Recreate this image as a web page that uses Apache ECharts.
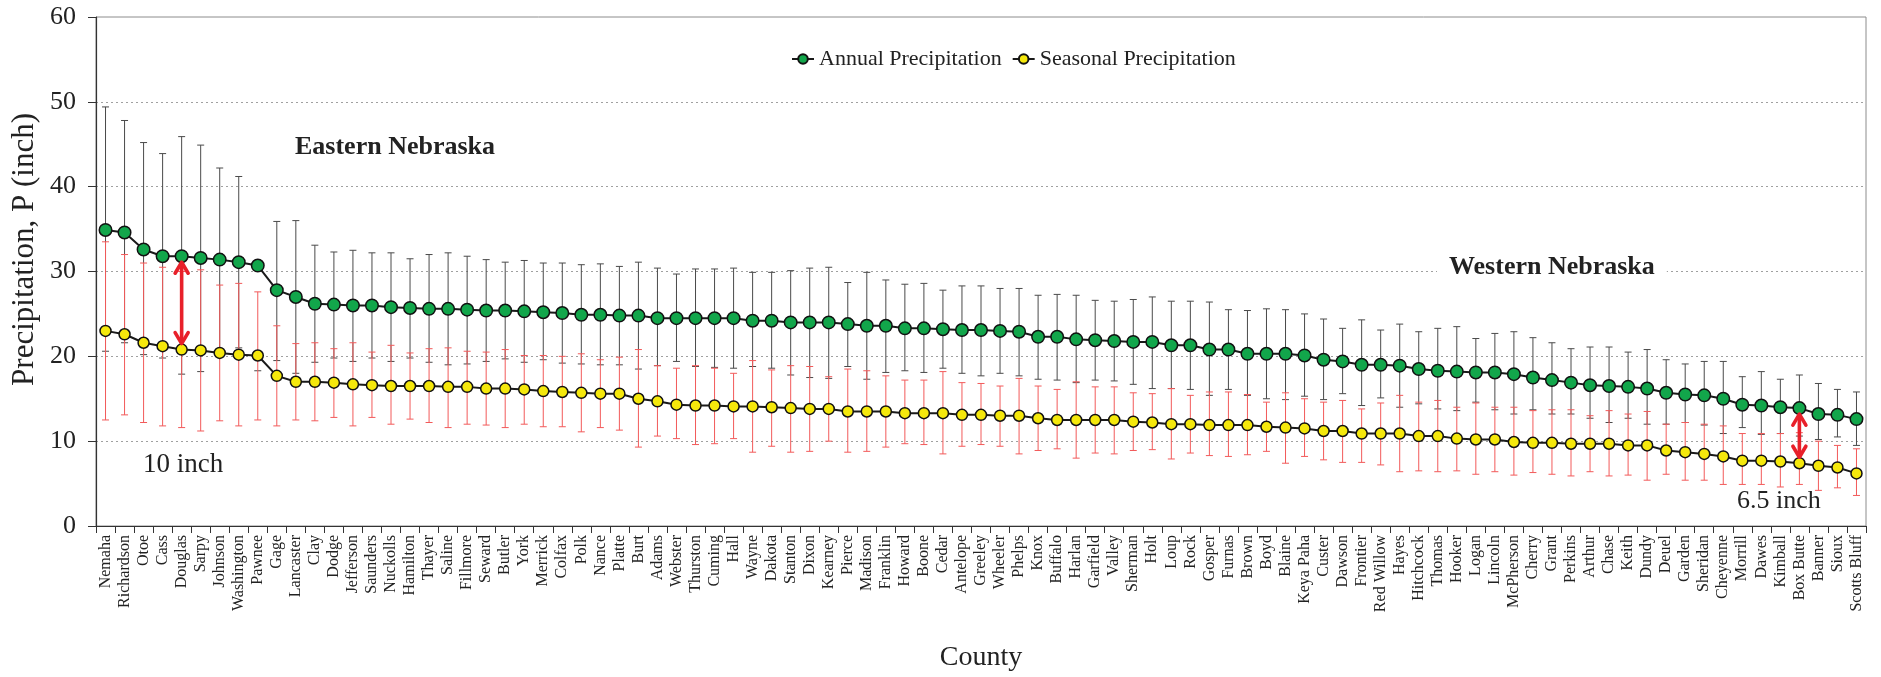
<!DOCTYPE html>
<html>
<head>
<meta charset="utf-8">
<title>Nebraska county precipitation</title>
<script src="https://cdn.jsdelivr.net/npm/echarts@6/dist/echarts.min.js"></script>
<style>
  html, body { margin: 0; padding: 0; background: #fff; }
  #chart { width: 1881px; height: 677px; }
</style>
</head>
<body>
<div id="chart"></div>
<script>
// Counties ordered from wettest (east) to driest (west)
const counties = [
  'Nemaha','Richardson','Otoe','Cass','Douglas','Sarpy','Johnson','Washington','Pawnee','Gage',
  'Lancaster','Clay','Dodge','Jefferson','Saunders','Nuckolls','Hamilton','Thayer','Saline','Fillmore',
  'Seward','Butler','York','Merrick','Colfax','Polk','Nance','Platte','Burt','Adams',
  'Webster','Thurston','Cuming','Hall','Wayne','Dakota','Stanton','Dixon','Kearney','Pierce',
  'Madison','Franklin','Howard','Boone','Cedar','Antelope','Greeley','Wheeler','Phelps','Knox',
  'Buffalo','Harlan','Garfield','Valley','Sherman','Holt','Loup','Rock','Gosper','Furnas',
  'Brown','Boyd','Blaine','Keya Paha','Custer','Dawson','Frontier','Red Willow','Hayes','Hitchcock',
  'Thomas','Hooker','Logan','Lincoln','McPherson','Cherry','Grant','Perkins','Arthur','Chase',
  'Keith','Dundy','Deuel','Garden','Sheridan','Cheyenne','Morrill','Dawes','Kimball','Box Butte',
  'Banner','Sioux','Scotts Bluff'
];

// Mean annual precipitation (inch)
const annualMean = [
  34.9, 34.6, 32.6, 31.8, 31.8, 31.6, 31.4, 31.1, 30.7, 27.8,
  27.0, 26.2, 26.1, 26.0, 26.0, 25.8, 25.7, 25.6, 25.6, 25.5,
  25.4, 25.4, 25.3, 25.2, 25.1, 24.9, 24.9, 24.8, 24.8, 24.5,
  24.5, 24.5, 24.5, 24.5, 24.2, 24.2, 24.0, 24.0, 24.0, 23.8,
  23.6, 23.6, 23.3, 23.3, 23.2, 23.1, 23.1, 23.0, 22.9, 22.3,
  22.3, 22.0, 21.9, 21.8, 21.7, 21.7, 21.3, 21.3, 20.8, 20.8,
  20.3, 20.3, 20.3, 20.1, 19.6, 19.4, 19.0, 19.0, 18.9, 18.5,
  18.3, 18.2, 18.1, 18.1, 17.9, 17.5, 17.2, 16.9, 16.6, 16.5,
  16.4, 16.2, 15.7, 15.5, 15.4, 15.0, 14.3, 14.2, 14.0, 13.9,
  13.2, 13.1, 12.6
];
// Annual precipitation range (inch)
const annualMax = [
  49.4, 47.8, 45.2, 43.9, 45.9, 44.9, 42.2, 41.2, null, 35.9,
  36.0, 33.1, 32.3, 32.5, 32.2, 32.2, 31.5, 32.0, 32.2, 31.8,
  31.4, 31.1, 31.3, 31.0, 31.0, 30.8, 30.9, 30.6, 31.1, 30.4,
  29.7, 30.3, 30.3, 30.4, 29.9, 29.9, 30.1, 30.4, 30.5, 28.7,
  29.9, 29.0, 28.5, 28.6, 27.8, 28.3, 28.3, 28.0, 28.0, 27.2,
  27.3, 27.2, 26.6, 26.5, 26.7, 27.0, 26.5, 26.5, 26.4, 25.5,
  25.4, 25.6, 25.5, 25.0, 24.4, 23.3, 24.3, 23.1, 23.8, 22.9,
  23.3, 23.5, 22.1, 22.7, 22.9, 22.2, 21.6, 20.9, 21.1, 21.1,
  20.5, 20.8, 19.6, 19.1, 19.4, 19.4, 17.6, 18.2, 17.3, 17.8,
  16.8, 16.1, 15.8
];
const annualMin = [
  20.6, 21.6, 20.2, 19.8, 17.9, 18.2, 20.0, 21.0, 18.3, 19.5,
  18.0, 19.3, 19.8, 19.4, 19.8, 19.4, 19.8, 19.3, 19.0, 19.1,
  19.4, 19.7, 19.3, 19.6, 19.2, 19.1, 19.0, 19.0, 18.5, 18.9,
  19.4, 18.8, 18.7, 18.6, 18.8, 18.6, 17.8, 17.5, 17.4, 18.8,
  17.3, 18.1, 18.3, 18.1, 18.6, 18.0, 17.7, 18.0, 17.7, 17.3,
  17.2, 16.9, 17.2, 17.1, 16.7, 16.2, 16.2, 16.1, 15.4, 16.1,
  15.4, 15.0, 14.9, 15.3, 14.9, 15.6, 14.2, 15.1, 14.0, 14.4,
  13.8, 13.6, 14.6, 13.7, 13.2, 13.7, 13.2, 13.2, 12.7, 12.2,
  12.7, 12.0, 12.0, 12.2, 11.9, 10.9, 11.6, 10.8, 10.9, 10.6,
  10.2, 10.5, 9.5
];

// Mean seasonal precipitation (inch)
const seasonalMean = [
  23.0, 22.6, 21.6, 21.2, 20.8, 20.7, 20.4, 20.2, 20.1, 17.7,
  17.0, 17.0, 16.9, 16.7, 16.6, 16.5, 16.5, 16.5, 16.4, 16.4,
  16.2, 16.2, 16.1, 15.9, 15.8, 15.7, 15.6, 15.6, 15.0, 14.7,
  14.3, 14.2, 14.2, 14.1, 14.1, 14.0, 13.9, 13.8, 13.8, 13.5,
  13.5, 13.5, 13.3, 13.3, 13.3, 13.1, 13.1, 13.0, 13.0, 12.7,
  12.5, 12.5, 12.5, 12.5, 12.3, 12.2, 12.0, 12.0, 11.9, 11.9,
  11.9, 11.7, 11.6, 11.5, 11.2, 11.2, 10.9, 10.9, 10.9, 10.6,
  10.6, 10.3, 10.2, 10.2, 9.9, 9.8, 9.8, 9.7, 9.7, 9.7,
  9.5, 9.5, 8.9, 8.7, 8.5, 8.2, 7.7, 7.7, 7.6, 7.4,
  7.1, 6.9, 6.2
];
// Seasonal precipitation range (inch)
const seasonalMax = [
  33.5, 32.0, 31.0, 30.5, 30.0, 30.2, 28.4, 28.6, 27.6, 23.6,
  21.5, 21.6, 20.9, 21.6, 20.5, 21.3, 20.4, 20.9, 21.0, 20.6,
  20.5, 20.8, 20.1, 20.1, 20.0, 20.3, 19.6, 19.9, 20.8, 18.9,
  18.6, 18.9, 18.6, 18.0, 19.5, 18.4, 18.9, 18.8, 17.6, 18.5,
  18.3, 17.7, 17.2, 17.2, 18.2, 16.9, 16.8, 16.5, 17.4, 16.5,
  16.1, 17.0, 16.4, 16.4, 15.7, 15.6, 16.2, 15.4, 15.8, 15.8,
  15.5, 14.6, 15.7, 15.0, 14.6, 14.8, 13.8, 14.5, 15.4, 14.6,
  14.8, 14.0, 14.5, 14.0, 14.0, 13.6, 13.7, 13.7, 13.0, 13.6,
  13.2, 13.5, 12.0, 12.2, 12.0, 11.8, 10.9, 10.9, 10.9, 11.0,
  10.0, 9.5, 9.1
];
const seasonalMin = [
  12.5, 13.1, 12.2, 11.8, 11.6, 11.2, 12.4, 11.8, 12.5, 11.8,
  12.5, 12.4, 12.8, 11.8, 12.8, 12.0, 12.6, 12.2, 11.6, 12.0,
  11.9, 11.6, 12.0, 11.7, 11.7, 11.1, 11.6, 11.3, 9.3, 10.6,
  10.3, 9.6, 9.7, 10.3, 8.7, 9.4, 8.7, 8.8, 10.0, 8.7,
  8.8, 9.3, 9.7, 9.6, 8.5, 9.4, 9.6, 9.4, 8.5, 8.9,
  9.1, 8.0, 8.6, 8.5, 8.9, 9.0, 7.9, 8.6, 8.3, 8.2,
  8.4, 8.8, 7.4, 8.2, 7.8, 7.5, 7.5, 7.2, 6.4, 6.5,
  6.4, 6.5, 6.1, 6.4, 6.0, 6.3, 6.1, 5.9, 6.4, 5.9,
  6.0, 5.4, 6.1, 5.4, 5.4, 4.9, 4.9, 4.9, 4.6, 4.9,
  4.2, 4.5, 3.6
];

// Counties where the annual–seasonal gap is called out
const gapCounties = ['Douglas', 'Box Butte'];
const gapLabels = ['10 inch', '6.5 inch'];

const yTicks = { min: 0, max: 60, step: 10 };

const FONT = '"Liberation Serif", "DejaVu Serif", serif';

// Vertical min–max range with end caps, one per county
function rangeSeries(name, lows, highs, color, z) {
  return {
    type: 'custom',
    name: name,
    silent: true,
    z: z,
    encode: { x: 0, y: [1, 2] },
    data: counties.map((c, i) => [i, lows[i] == null ? '-' : lows[i], highs[i] == null ? '-' : highs[i]]),
    renderItem: function (params, api) {
      const i = api.value(0);
      const lo = api.value(1);
      const hi = api.value(2);
      const x = api.coord([i, 0])[0];
      const cap = 3.5;
      const style = { stroke: color, lineWidth: 1 };
      const kids = [];
      const yLo = isNaN(lo) ? null : api.coord([i, lo])[1];
      const yHi = isNaN(hi) ? null : api.coord([i, hi])[1];
      if (yLo != null && yHi != null) {
        kids.push({ type: 'line', shape: { x1: x, y1: yLo, x2: x, y2: yHi }, style: style });
      }
      [yLo, yHi].forEach(function (y) {
        if (y != null) {
          kids.push({ type: 'line', shape: { x1: x - cap, y1: y, x2: x + cap, y2: y }, style: style });
        }
      });
      return { type: 'group', children: kids };
    }
  };
}

// Double-headed arrows between the annual and seasonal markers
const gapData = gapCounties.map(function (name, k) {
  const i = counties.indexOf(name);
  return [i, annualMean[i], seasonalMean[i], k];
});

const arrowSeries = {
  type: 'custom',
  name: 'gap',
  silent: true,
  z: 6,
  encode: { x: 0, y: [1, 2] },
  data: gapData,
  renderItem: function (params, api) {
    const i = api.value(0);
    const top = api.coord([i, api.value(1)]);
    const bot = api.coord([i, api.value(2)]);
    const x = top[0];
    const y1 = top[1] + 6;
    const y2 = bot[1] - 6;
    const hw = 6.5, hd = 11;
    const st = { stroke: '#e8202a', lineWidth: 3.6, fill: null, lineCap: 'round', lineJoin: 'round' };
    return {
      type: 'group',
      children: [
        { type: 'line', shape: { x1: x, y1: y1 + 1, x2: x, y2: y2 - 1 }, style: st },
        { type: 'polyline', shape: { points: [[x - hw, y1 + hd], [x, y1], [x + hw, y1 + hd]] }, style: st },
        { type: 'polyline', shape: { points: [[x - hw, y2 - hd], [x, y2], [x + hw, y2 - hd]] }, style: st }
      ]
    };
  }
};

const chart = echarts.init(document.getElementById('chart'), null, { renderer: 'canvas' });

const option = {
  animation: false,
  backgroundColor: '#ffffff',
  grid: {
    left: 96, right: 15, top: 17, bottom: 151,
    show: true, borderColor: '#8c8c8c', borderWidth: 1, backgroundColor: 'transparent'
  },
  legend: {
    left: 786, top: 43,
    itemWidth: 22, itemHeight: 12, itemGap: 10,
    textStyle: { fontFamily: FONT, fontSize: 22, color: '#222' },
    data: ['Annual Precipitation', 'Seasonal Precipitation']
  },
  xAxis: {
    type: 'category',
    data: counties,
    boundaryGap: true,
    name: 'County',
    nameLocation: 'middle',
    nameGap: 118,
    nameTextStyle: { fontFamily: FONT, fontSize: 28, color: '#222' },
    axisLine: { lineStyle: { color: '#333', width: 1.2 } },
    axisTick: { show: true, length: 7, lineStyle: { color: '#333' } },
    axisLabel: { rotate: 90, interval: 0, margin: 9, fontFamily: FONT, fontSize: 16, color: '#222' },
    splitLine: { show: false }
  },
  yAxis: {
    type: 'value',
    min: yTicks.min, max: yTicks.max, interval: yTicks.step,
    axisLine: { show: true, lineStyle: { color: '#333', width: 1.2 } },
    axisTick: { show: true, length: 8, lineStyle: { color: '#333' } },
    axisLabel: { margin: 20, fontFamily: FONT, fontSize: 26, color: '#222' },
    splitLine: { show: true, showMaxLine: false, lineStyle: { color: '#a0a0a0', width: 1, type: [2, 3] } }
  },
  graphic: [
    {
      type: 'text', left: 9, top: 113, rotation: Math.PI / 2,
      style: { text: 'Precipitation, P (inch)', fontFamily: FONT, fontSize: 31, fill: '#222' },
      originX: 0, originY: 0
    },
    { type: 'text', left: 295, top: 134, style: { text: 'Eastern Nebraska', fontFamily: FONT, fontWeight: 'bold', fontSize: 26, fill: '#222' } },
    {
      type: 'text', left: 1437, top: 252, z: 100,
      style: {
        text: 'Western Nebraska', fontFamily: FONT, fontWeight: 'bold', fontSize: 26, fill: '#222',
        backgroundColor: '#ffffff', padding: [2, 12, 2, 12]
      }
    },
    { type: 'text', left: 143, top: 451, style: { text: gapLabels[0], fontFamily: FONT, fontSize: 27, fill: '#222' } },
    { type: 'text', left: 1737, top: 488, style: { text: gapLabels[1], fontFamily: FONT, fontSize: 26, fill: '#222' } }
  ],
  series: [
    rangeSeries('annualRange', annualMin, annualMax, '#4a4a4a', 2),
    rangeSeries('seasonalRange', seasonalMin, seasonalMax, '#f25a5a', 3),
    {
      name: 'Annual Precipitation',
      type: 'line',
      z: 5,
      data: annualMean,
      symbol: 'circle',
      symbolSize: 12.5,
      lineStyle: { color: '#1a1a1a', width: 2 },
      itemStyle: { color: '#12a64b', borderColor: '#111', borderWidth: 1.5 }
    },
    {
      name: 'Seasonal Precipitation',
      type: 'line',
      z: 5,
      data: seasonalMean,
      symbol: 'circle',
      symbolSize: 11,
      lineStyle: { color: '#1a1a1a', width: 2 },
      itemStyle: { color: '#f5e80c', borderColor: '#111', borderWidth: 1.5 }
    },
    arrowSeries
  ]
};

chart.setOption(option);
</script>
</body>
</html>
